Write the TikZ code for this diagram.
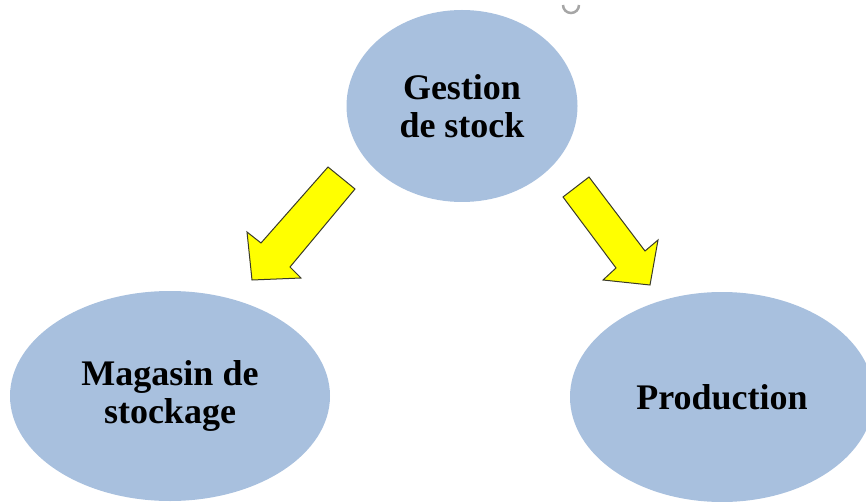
\documentclass[tikz,border=0pt]{standalone}
\usepackage{fontspec}
\setmainfont{Liberation Serif}
\usetikzlibrary{shapes.geometric}
\definecolor{bubble}{HTML}{A8C0DE}
\definecolor{arrowfill}{HTML}{FFFF00}
\definecolor{arrowline}{HTML}{3A3A2A}
\tikzset{
  bubble/.style={ellipse, fill=bubble, draw=none, inner sep=0pt,
    minimum width=#1, align=center,
    font=\fontsize{36}{38}\selectfont\bfseries},
  blockarrow/.style={fill=arrowfill, draw=arrowline, line width=1pt, line join=miter},
}
\begin{document}
\begin{tikzpicture}[x=1pt,y=-1pt]
  \useasboundingbox (0,0) rectangle (866,502);
  \clip (0,0) rectangle (866,502);

  % three ellipses
  \node[bubble=231pt, minimum height=192pt] (gestion) at (462,106) {Gestion\\de stock};
  \node[bubble=320pt, minimum height=210pt] (magasin) at (170,396) {Magasin de\\stockage};
  \node[bubble=304pt, minimum height=210pt] (production) at (722,397) {Production};

  % block arrows from the top ellipse to the two lower ones
  \draw[blockarrow] (328,167) -- (355,189) -- (290,267) -- (301,278)
    -- (252,280) -- (247,232) -- (261,243) -- cycle;
  \draw[blockarrow] (563,197) -- (589,177) -- (645,251) -- (658,240)
    -- (650,285) -- (603,280) -- (616,268) -- cycle;

  % small handle at the top edge
  \draw[gray!70, line width=2.5pt] (563,5) arc[start angle=180, end angle=0, radius=8];
\end{tikzpicture}
\end{document}
